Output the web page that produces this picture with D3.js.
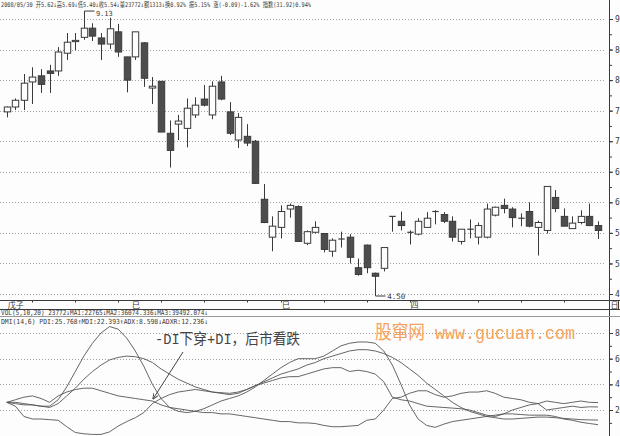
<!DOCTYPE html>
<html><head><meta charset="utf-8">
<script src="https://cdn.jsdelivr.net/npm/d3@7/dist/d3.min.js"></script>
<style>
html,body{margin:0;padding:0;background:#fdfdfd;}
svg{display:block;}
</style></head>
<body><svg id="c" width="620" height="436"></svg>
<script>
const open  = [7.48,7.56,7.67,7.97,8.07,8.15,8.15,8.44,8.63,8.70,8.85,8.69,8.59,8.79,8.38,8.38,8.61,7.87,7.98,7.13,7.28,7.21,7.43,7.69,7.43,7.97,7.48,7.02,7.08,7.00,6.05,5.43,5.59,5.89,5.93,5.33,5.51,5.49,5.20,5.40,5.43,4.93,5.30,4.84,4.92,5.77,5.69,5.51,5.48,5.59,5.85,5.80,5.69,5.36,5.56,5.43,5.43,5.79,5.95,5.89,5.74,5.85,5.59,5.54,6.08,5.77,5.57,5.67,5.77,5.62];
const high  = [7.57,7.70,8.10,8.21,8.18,8.25,8.54,8.77,8.77,9.13,8.93,8.77,9.02,8.92,8.38,8.79,8.62,8.05,7.98,7.34,7.43,7.70,7.72,7.92,7.98,8.07,7.64,7.46,7.28,7.02,6.30,5.77,5.95,5.98,5.95,5.54,5.69,5.49,5.41,5.52,5.48,5.08,5.31,4.85,5.26,5.77,5.85,5.54,5.74,5.84,5.87,5.84,5.77,5.56,5.72,5.67,5.98,5.93,6.06,5.92,5.82,6.00,5.70,6.26,6.20,5.90,5.77,5.87,5.98,5.69];
const low   = [7.39,7.51,7.51,7.61,7.79,7.79,8.07,8.33,8.49,8.66,8.64,8.33,8.51,8.38,7.80,8.33,7.89,7.61,7.15,6.57,7.02,6.90,7.38,7.57,7.36,7.67,7.10,6.89,6.92,6.30,5.66,5.20,5.41,5.75,5.36,5.30,5.49,5.18,5.11,5.26,5.00,4.80,4.84,4.50,4.87,5.52,5.54,5.31,5.46,5.59,5.64,5.66,5.36,5.31,5.41,5.31,5.41,5.77,5.82,5.59,5.61,5.59,5.13,5.49,5.84,5.61,5.57,5.64,5.61,5.40];
const close = [7.56,7.67,7.95,8.05,7.93,8.11,8.46,8.62,8.65,8.85,8.72,8.59,8.84,8.46,8.00,8.79,8.03,7.90,7.15,6.85,7.33,7.54,7.59,7.59,7.90,7.69,7.13,7.39,6.97,6.31,5.67,5.61,5.85,5.95,5.36,5.52,5.59,5.23,5.38,5.39,5.10,4.82,4.93,4.79,5.26,5.76,5.62,5.50,5.69,5.74,5.84,5.69,5.43,5.56,5.55,5.62,5.89,5.92,5.90,5.75,5.73,5.61,5.67,6.26,5.90,5.61,5.66,5.77,5.62,5.54];

const pdi  = [26,28,30,31,29,26,31,34,36,37,37,35,33,31,30,29,28,27,24,22,21,20,19,18,18,17,17,16,15,14,13,12,11,11,10,10,9.5,8,7,7,7.5,8,12,13,20,29,30,33,35,35,32,30,31,33,34,34,35,33,30,29,28,26,25,27,26,25,26,27,26,25.8];
const mdi  = [26,23,15,13,13,12.5,12,7,2.5,1.5,1,1,3,7.5,11,14,18,25,29,32,34,35,36,35,34,33.5,33,34,36,39,41,43,45,46,46,48,50,52,53,53,50,51,50,48,42,30,28,27,25,23,22.5,22,21.5,21,20,18,16,15,17,20,22,24,25,20,21,22,23,22,22.5,22.4];
const adx  = [26,25,24,24,23,23,28,38,50,62,72,80,85,83,76,66,54,40,29,22,19,18,19,21,24,27,29,31,34,38,43,48,53,57,60,60,60,62,66,70,72,73,73,72,66,55,40,24,13,8,6.5,9,11,12,13,14,15,16,17,17,16.5,16,16,16,15,13,12,10.5,9.5,8.6];
const adxr = [26,26,25,24,23,22,25,31,37,44,50,55,59,61,62,61.5,60,57,52,48,44,41,38,36,34,33,32,33,36,39,42,45,48,50,52,55,57,60,62,64,66,67,67,66,64,61,57,52,47,41,36,31,26,22,19,17,15,14,13,13,13.5,14,14.5,14.5,14,13.5,13,12.5,12.3,12.2];

const priceTicks = [9.0,8.5,8.0,7.5,7.0,6.5,6.0,5.5,5.0,4.5];
const dmiTicks = [80,60,40,20];
const monthLabels = ["戊子","巳","巳","四"];
const monthAt = [0,14.5,32,47];
const weekTicks = [3,8,13,18,23,28,32,37,42,47,55,60,65];

const headerText = "2008/05/30 开5.62↓高5.69↓低5.40↓收5.54↓量23772↓额1313↓换0.92% 振5.15% 涨(-0.09)-1.62% 指数(31.92)0.94%";
const volText = "VOL(5,10,20) 23772↓MA1:22765↓MA2:36074.336↓MA3:39492.074↓";
const dmiText = "DMI(14,6) PDI:25.768↑MDI:22.393↑ADX:8.598↓ADXR:12.236↓";
const noteText = "-DI下穿+DI，后市看跌";
const markText = "股窜网 www.gucuan.com";

const svg = d3.select("#c");
const idx = d3.range(open.length);
const x = d3.scaleBand().domain(idx).range([1.4, 603.4]).padding(0.25);
const xl = d3.scaleLinear().domain([0, open.length - 1]).range([x(0) + x.bandwidth()/2, x(open.length-1) + x.bandwidth()/2]);
const cx = i => xl(i);
const y = d3.scaleLinear().domain([4.5, 9]).range([294, 19]);
const yd = d3.scaleLinear().domain([0, 80]).range([435.7, 333]);

const ink = "#3a3a3a", grid = "#8a8a8a";
const axisX = 609;
const smallFont = "'DejaVu Sans Mono','Noto Sans CJK SC',monospace";

svg.append("g").selectAll("line").data(priceTicks).join("line")
  .attr("x1", 0).attr("x2", 605).attr("y1", d => Math.round(y(d))+0.5).attr("y2", d => Math.round(y(d))+0.5)
  .attr("stroke", grid).attr("stroke-width", 0.8).attr("stroke-dasharray", "1,2");
svg.append("g").selectAll("line").data(dmiTicks).join("line")
  .attr("x1", 0).attr("x2", 605).attr("y1", d => Math.round(yd(d))+0.5).attr("y2", d => Math.round(yd(d))+0.5)
  .attr("stroke", grid).attr("stroke-width", 0.8).attr("stroke-dasharray", "1,2");

const yAxis = d3.axisRight(y).tickValues(priceTicks).tickSize(4).tickFormat(d3.format(".2f"));
svg.append("g").attr("transform", `translate(${axisX},0)`).call(yAxis);
const yAxis2 = d3.axisRight(y).tickValues(d3.range(4.5, 9.01, 0.25)).tickSize(3).tickFormat("");
svg.append("g").attr("transform", `translate(${axisX},0)`).call(yAxis2);
const dAxis = d3.axisRight(yd).tickValues(dmiTicks).tickSize(4).tickFormat(d3.format("d"));
svg.append("g").attr("transform", `translate(${axisX},0)`).call(dAxis);
const dAxis2 = d3.axisRight(yd).tickValues(d3.range(10, 80, 10)).tickSize(3).tickFormat("");
svg.append("g").attr("transform", `translate(${axisX},0)`).call(dAxis2);
svg.selectAll(".domain").remove();
svg.selectAll(".tick line").attr("stroke", ink);
svg.selectAll(".tick text").attr("fill", ink).attr("font-size", 8).attr("font-family", smallFont).attr("x", 6);
svg.append("line").attr("x1", axisX+0.5).attr("x2", axisX+0.5).attr("y1", 0).attr("y2", 436).attr("stroke", ink).attr("stroke-width", 1);

const cg = svg.append("g");
const bw = x.bandwidth();
idx.forEach(i => {
  const up = close[i] >= open[i];
  const X = Math.round(cx(i)) + 0.5;
  cg.append("line").attr("x1", X).attr("x2", X).attr("y1", y(high[i])).attr("y2", y(low[i]))
    .attr("stroke", ink).attr("stroke-width", 1);
  const top = y(Math.max(open[i], close[i])), bot = y(Math.min(open[i], close[i]));
  if (Math.abs(bot - top) < 1.2) {
    cg.append("line").attr("x1", X - bw/2).attr("x2", X + bw/2).attr("y1", top).attr("y2", top)
      .attr("stroke", ink).attr("stroke-width", 1.2);
  } else {
    cg.append("rect").attr("x", X - bw/2).attr("y", top).attr("width", bw).attr("height", bot - top)
      .attr("fill", up ? "#fdfdfd" : "#4d4d4d").attr("stroke", ink).attr("stroke-width", 1);
  }
});

const iMax = d3.maxIndex(high), iMin = d3.minIndex(low);
svg.append("path").attr("d", `M${Math.round(cx(iMax))+0.5},${y(high[iMax])}h10`).attr("stroke", ink).attr("fill", "none");
svg.append("text").attr("x", cx(iMax)+12).attr("y", y(high[iMax])+4.5).text(d3.format(".2f")(high[iMax]))
  .attr("font-size", 7).attr("font-family", smallFont).attr("fill", ink);
svg.append("path").attr("d", `M${Math.round(cx(iMin))+0.5},${y(low[iMin])}V${y(low[iMin])+2}h10`).attr("stroke", ink).attr("fill", "none");
svg.append("text").attr("x", cx(iMin)+12).attr("y", y(low[iMin])+5).text(d3.format(".2f")(low[iMin]))
  .attr("font-size", 7.5).attr("font-family", smallFont).attr("fill", ink);

svg.append("text").attr("x", 1).attr("y", 6.5).text(headerText)
  .attr("font-size", 6.5).attr("font-family", smallFont).attr("fill", ink)
  .attr("textLength", 310).attr("lengthAdjust", "spacingAndGlyphs");

svg.append("line").attr("x1", 0).attr("x2", 620).attr("y1", 300.5).attr("y2", 300.5).attr("stroke", ink);
svg.append("line").attr("x1", 0).attr("x2", 620).attr("y1", 309.5).attr("y2", 309.5).attr("stroke", ink);
svg.append("line").attr("x1", 0).attr("x2", 620).attr("y1", 316.5).attr("y2", 316.5).attr("stroke", "#999");
svg.append("g").selectAll("line").data(weekTicks).join("line")
  .attr("x1", d => Math.round(cx(d))+0.5).attr("x2", d => Math.round(cx(d))+0.5).attr("y1", 300).attr("y2", 302.5).attr("stroke", ink);
svg.append("g").selectAll("text").data(monthLabels).join("text")
  .attr("x", (d, k) => cx(monthAt[k]) + 1).attr("y", 308).text(d => d)
  .attr("font-size", 8).attr("font-family", "'Noto Sans CJK SC'").attr("fill", ink);
svg.append("rect").attr("x", 609.5).attr("y", 300.5).attr("width", 9).attr("height", 9).attr("fill", "none").attr("stroke", ink);
svg.append("text").attr("x", 610.5).attr("y", 308).text("日").attr("font-size", 8).attr("font-family", "'Noto Sans CJK SC'").attr("fill", ink);

svg.append("text").attr("x", 1).attr("y", 315).text(volText)
  .attr("font-size", 7).attr("font-family", smallFont).attr("fill", ink)
  .attr("textLength", 207).attr("lengthAdjust", "spacingAndGlyphs");
svg.append("text").attr("x", 1).attr("y", 323.5).text(dmiText)
  .attr("font-size", 7).attr("font-family", smallFont).attr("fill", ink)
  .attr("textLength", 207).attr("lengthAdjust", "spacingAndGlyphs");

const line = d3.line().x((d, i) => cx(i)).y(d => yd(d)).curve(d3.curveLinear);
[pdi, mdi, adx, adxr].forEach(s => {
  svg.append("path").attr("d", line(s)).attr("fill", "none").attr("stroke", "#555").attr("stroke-width", 0.9);
});

svg.append("text").attr("x", 375).attr("y", 339).text(markText)
  .attr("font-size", 19).attr("font-family", "'Liberation Mono','Noto Sans CJK SC',monospace").attr("fill", "#f4a25c")
  .attr("textLength", 200).attr("lengthAdjust", "spacingAndGlyphs");

svg.append("text").attr("x", 155).attr("y", 344).text(noteText)
  .attr("font-size", 15).attr("font-family", "'Liberation Mono','Noto Sans CJK SC',monospace").attr("fill", "#444")
  .attr("textLength", 145).attr("lengthAdjust", "spacingAndGlyphs");
const defs = svg.append("defs");
defs.append("marker").attr("id", "ah").attr("viewBox", "0 0 10 10").attr("refX", 9).attr("refY", 5)
  .attr("markerWidth", 6).attr("markerHeight", 6).attr("orient", "auto")
  .append("path").attr("d", "M0,1L10,5L0,9").attr("fill", "none").attr("stroke", "#444").attr("stroke-width", 1.5);
svg.append("line").attr("x1", 183).attr("y1", 352).attr("x2", 153).attr("y2", 399)
  .attr("stroke", "#444").attr("stroke-width", 1).attr("marker-end", "url(#ah)");
</script></body></html>
